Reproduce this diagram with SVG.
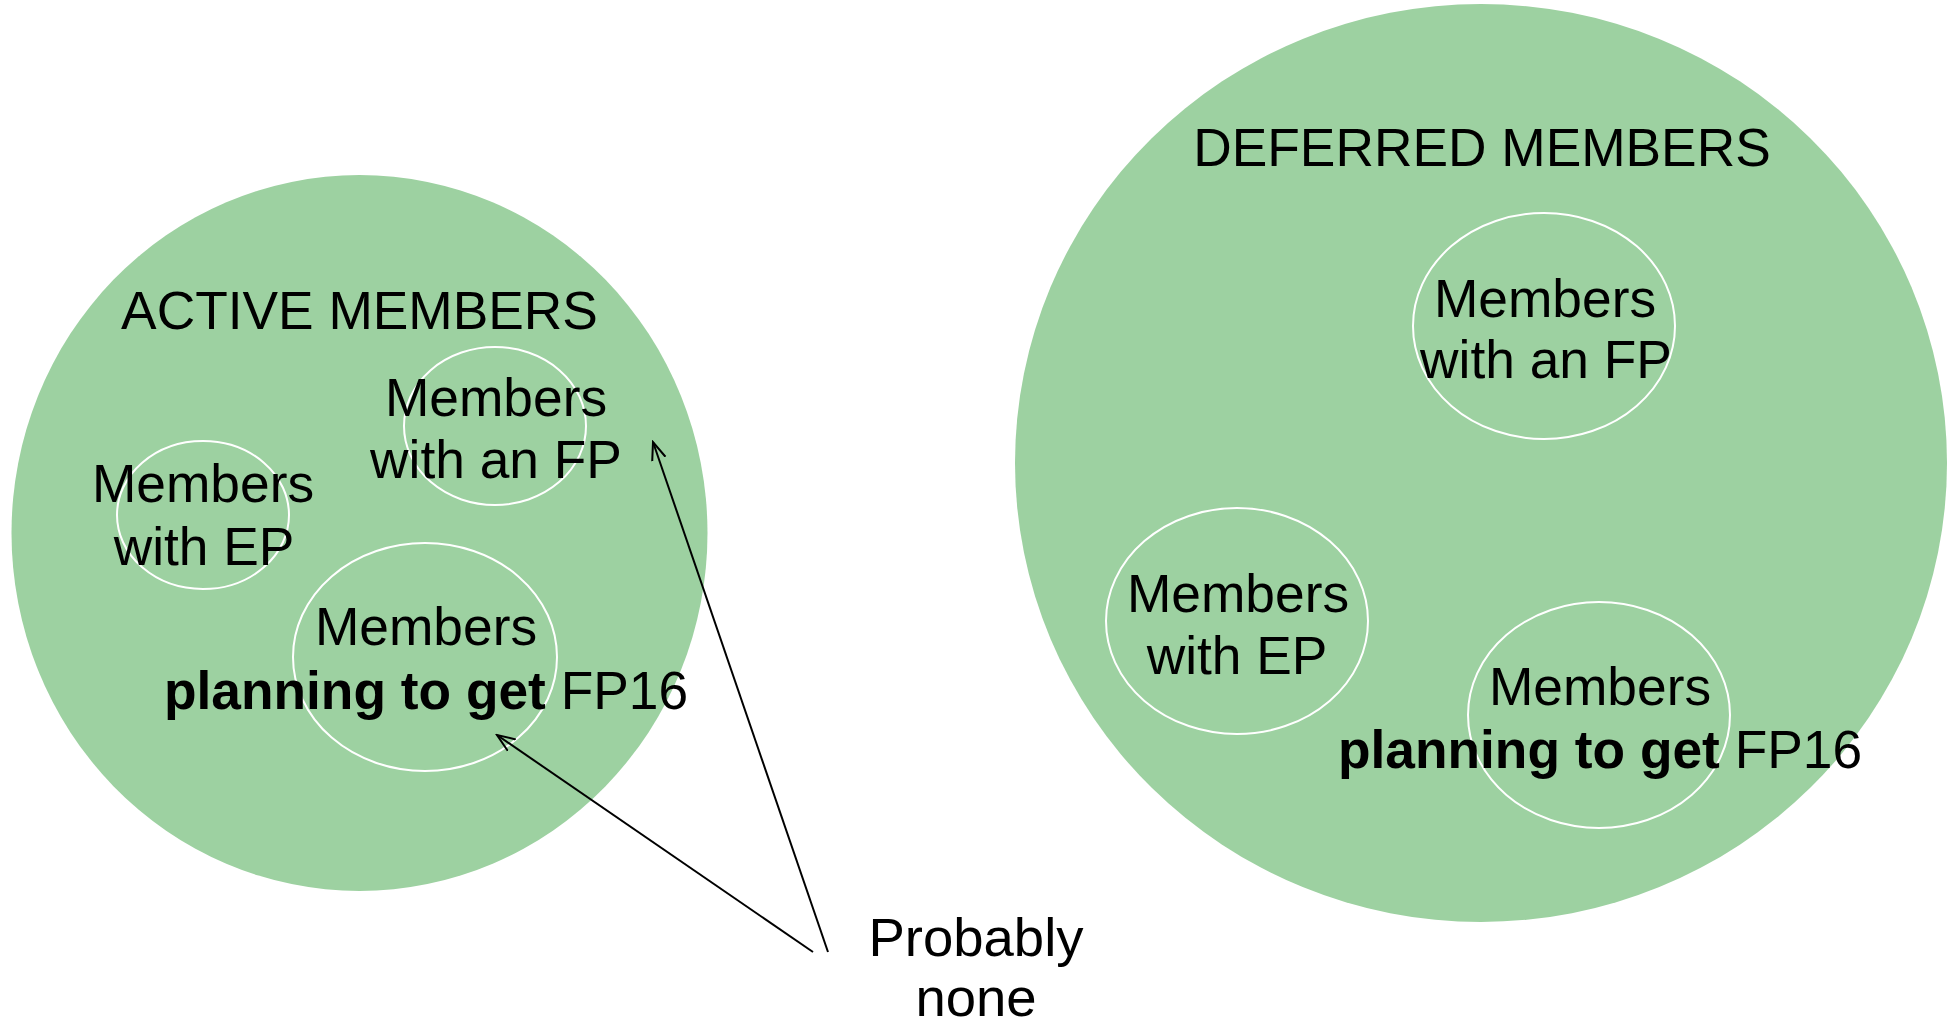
<svg xmlns="http://www.w3.org/2000/svg" width="1957" height="1026" viewBox="0 0 1957 1026">
<defs>
<style>
.big{fill:#9dd1a1;}
.sub{fill:none;stroke:#ffffff;stroke-width:2;}
text{font-family:"Liberation Sans",Arial,sans-serif;font-size:53.3px;fill:#000;text-anchor:middle;}
.b{font-weight:bold;}
.conn{stroke:#000;stroke-width:2;fill:none;marker-end:url(#arr);}
</style>
<marker id="arr" viewBox="0 0 20 20" refX="18" refY="10" markerWidth="20" markerHeight="20" markerUnits="userSpaceOnUse" orient="auto">
<path d="M0,3 L18,10 L0,17" fill="none" stroke="#000" stroke-width="2"/>
</marker>
</defs>
<rect width="1957" height="1026" fill="#ffffff"/>
<g id="active">
<ellipse class="big" cx="359.5" cy="533" rx="348" ry="358"/>
<text x="359.5" y="329">ACTIVE MEMBERS</text>
</g>
<g id="deferred">
<ellipse class="big" cx="1481" cy="463" rx="466" ry="459"/>
<text x="1482" y="166">DEFERRED MEMBERS</text>
</g>
<g id="active-ep">
<ellipse class="sub" cx="203" cy="515" rx="86" ry="74"/>
<text x="203" y="502">Members</text>
<text x="204" y="565">with EP</text>
</g>
<g id="active-fp">
<ellipse class="sub" cx="495" cy="426" rx="91" ry="79"/>
<text x="496" y="416">Members</text>
<text x="496" y="478">with an FP</text>
</g>
<g id="active-plan">
<ellipse class="sub" cx="425" cy="657" rx="132" ry="114"/>
<text x="426" y="645">Members</text>
<text x="426" y="709"><tspan class="b">planning to get</tspan> FP16</text>
</g>
<g id="deferred-fp">
<ellipse class="sub" cx="1544" cy="326" rx="131" ry="113"/>
<text x="1545" y="317">Members</text>
<text x="1546" y="378">with an FP</text>
</g>
<g id="deferred-ep">
<ellipse class="sub" cx="1237" cy="621" rx="131" ry="113"/>
<text x="1238" y="612">Members</text>
<text x="1237" y="674">with EP</text>
</g>
<g id="deferred-plan">
<ellipse class="sub" cx="1599" cy="715" rx="131" ry="113"/>
<text x="1600" y="705">Members</text>
<text x="1600" y="768"><tspan class="b">planning to get</tspan> FP16</text>
</g>
<g id="note">
<text x="976" y="956" style="font-size:54.5px">Probably</text>
<text x="976" y="1016" style="font-size:54.5px">none</text>
</g>
<g id="connectors">
<line class="conn" x1="828" y1="952" x2="653" y2="442"/>
<line class="conn" x1="813" y1="952" x2="497" y2="735"/>
</g>
</svg>
